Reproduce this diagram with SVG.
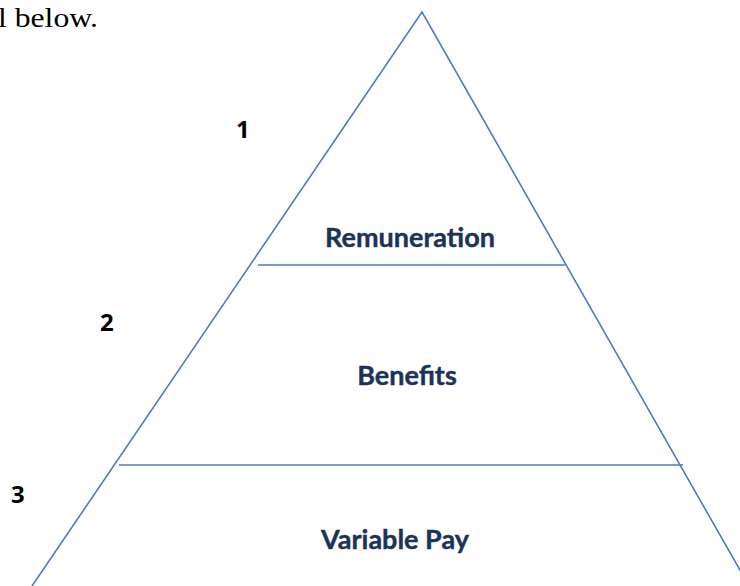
<svg xmlns="http://www.w3.org/2000/svg" width="740" height="586" viewBox="0 0 740 586">
<style>
.edge{stroke:#4A7BC4;stroke-width:1.6;fill:none}
.lbl{font-family:Lato,"Open Sans","Liberation Sans",sans-serif;font-weight:bold;font-size:27px;fill:#1B3358;text-anchor:middle;stroke:#1B3358;stroke-width:0.4}
.num{font-family:"Open Sans","Liberation Sans",sans-serif;font-weight:bold;font-size:24px;fill:#000}
.body{font-family:"Liberation Serif",serif;font-size:28px;fill:#000}
</style>
<rect width="740" height="586" fill="#fff"/>
<text class="body" x="-2" y="27" textLength="100" lengthAdjust="spacingAndGlyphs">l below.</text>
<g id="connectors">
<polyline class="edge" points="32,586 422,12 749,586"/>
<line class="edge" x1="258" y1="265" x2="565" y2="265"/>
<line class="edge" x1="119" y1="465" x2="683" y2="465"/>
</g>
<g id="remuneration"><text class="lbl" x="410" y="247">Remuneration</text></g>
<g id="benefits"><text class="lbl" x="407" y="385">Benefits</text></g>
<g id="variable-pay"><text class="lbl" x="395" y="549">Variable Pay</text></g>
<g id="n1"><text class="num" x="236" y="138">1</text></g>
<g id="n2"><text class="num" x="100" y="331">2</text></g>
<g id="n3"><text class="num" x="11" y="503">3</text></g>
</svg>
